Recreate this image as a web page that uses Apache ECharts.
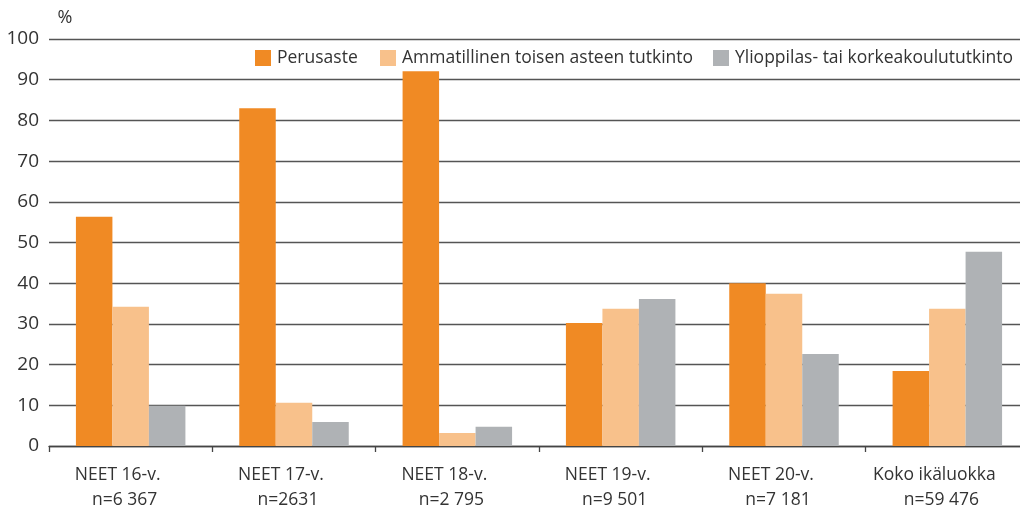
<!DOCTYPE html>
<html><head><meta charset="utf-8">
<script src="https://cdn.jsdelivr.net/npm/echarts@6/dist/echarts.min.js"></script>
<style>html,body{margin:0;padding:0;background:#fff;overflow:hidden}#c{width:1020px;height:506px}</style>
</head><body><div id="c"></div>
<script>
const categories = ['NEET 16-v.', 'NEET 17-v.', 'NEET 18-v.', 'NEET 19-v.', 'NEET 20-v.', 'Koko ikäluokka'];
const sampleSizes = ['n=6 367', 'n=2631', 'n=2 795', 'n=9 501', 'n=7 181', 'n=59 476'];
const seriesNames = ['Perusaste', 'Ammatillinen toisen asteen tutkinto', 'Ylioppilas- tai korkeakoulututkinto'];
const perusaste = [56.3, 83.0, 92.1, 30.2, 40.0, 18.4];
const ammatillinen = [34.2, 10.6, 3.2, 33.7, 37.4, 33.7];
const ylioppilas = [9.9, 5.9, 4.7, 36.1, 22.6, 47.7];
const yTicks = [0, 10, 20, 30, 40, 50, 60, 70, 80, 90, 100];

const colors = ['#F08A24', '#F8C18B', '#AFB2B5'];
const legendLefts = [255, 380, 713];
const font = 'Open Sans';
const el = document.getElementById('c');
const chart = echarts.init(el, null, {renderer: 'canvas'});
const H = chart.getHeight();
const values = [perusaste, ammatillinen, ylioppilas];
chart.setOption({
  animation: false,
  textStyle: {fontFamily: font},
  legend: seriesNames.map((n, k) => ({
    left: legendLefts[k], top: 49, width: 600, padding: 0, itemWidth: 16, itemHeight: 16,
    icon: 'rect',
    textStyle: {fontFamily: font, fontSize: 17.5, color: '#333', padding: [0, 0, 0, 1]},
    data: [n]
  })),
  grid: {left: 49, right: -9, top: 39, bottom: H - 446, containLabel: false, outerBoundsMode: 'none'},
  xAxis: {
    type: 'category',
    data: categories,
    axisLine: {lineStyle: {color: '#444', width: 1.3}},
    axisTick: {show: true, length: 6, lineStyle: {color: '#444', width: 1.3}},
    axisLabel: {
      interval: 0, margin: 17, lineHeight: 25,
      formatter: (v, i) => '{a|' + v + '}\n{b|' + sampleSizes[i] + '}',
      rich: {
        a: {fontFamily: font, fontSize: 17.5, color: '#333', padding: [0, 26, 0, 0]},
        b: {fontFamily: font, fontSize: 17.5, color: '#333', padding: [0, 12, 0, 0]}
      }
    }
  },
  yAxis: {
    type: 'value', min: 0, max: 100, interval: 10,
    name: '%',
    nameLocation: 'end', nameGap: 12,
    nameTextStyle: {fontFamily: font, fontSize: 18, color: '#333', padding: [0, 0, 0, 32]},
    axisLine: {show: false},
    axisTick: {show: false},
    axisLabel: {margin: 10, fontFamily: font, fontSize: 19, color: '#333',
      formatter: v => yTicks.includes(v) ? String(v) : ''},
    splitLine: {lineStyle: {color: '#555', width: 1.3}}
  },
  series: seriesNames.map((n, k) => ({
    name: n, type: 'bar', data: values[k],
    barWidth: 36.5, barGap: '0%',
    itemStyle: {color: colors[k]}
  }))
});
</script></body></html>
